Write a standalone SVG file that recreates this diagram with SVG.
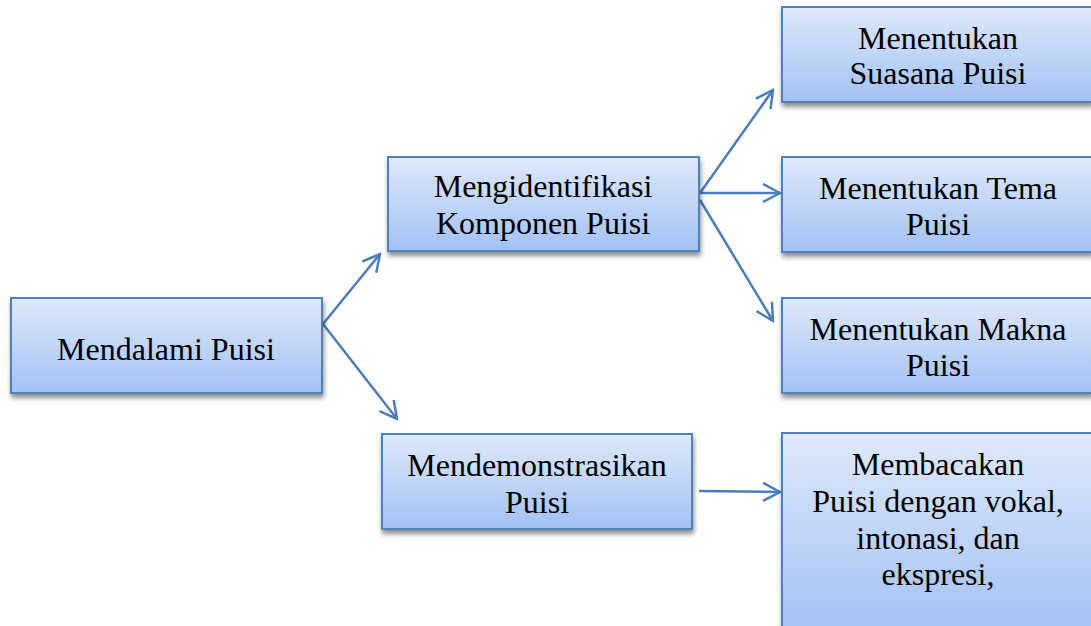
<svg xmlns="http://www.w3.org/2000/svg" width="1091" height="626" viewBox="0 0 1091 626">
<defs>
<linearGradient id="g" x1="0" y1="0" x2="0" y2="1">
<stop offset="0" stop-color="#dfe9fb"/>
<stop offset="1" stop-color="#a2c1f4"/>
</linearGradient>
<filter id="sh" x="-10%" y="-10%" width="120%" height="130%">
<feGaussianBlur in="SourceAlpha" stdDeviation="2.5"/>
<feOffset dx="1" dy="4" result="b"/>
<feComponentTransfer><feFuncA type="linear" slope="0.45"/></feComponentTransfer>
<feMerge><feMergeNode/><feMergeNode in="SourceGraphic"/></feMerge>
</filter>
<marker id="arr" viewBox="0 0 20 20" refX="18" refY="10" markerWidth="20" markerHeight="20" markerUnits="userSpaceOnUse" orient="auto">
<path d="M1,1 L18,10 L1,19" fill="none" stroke="#4a7ebb" stroke-width="2.5"/>
</marker>
</defs>
<style>
.box{fill:url(#g);stroke:#4f81bd;stroke-width:2;filter:url(#sh)}
.t{font-family:"Liberation Serif","Times New Roman",serif;font-size:32px;fill:#000;text-anchor:middle}
.c{fill:none;stroke:#4a7ebb;stroke-width:2.5;marker-end:url(#arr)}
</style>
<g id="connectors">
<line class="c" x1="323" y1="324" x2="380" y2="254"/>
<line class="c" x1="323" y1="324" x2="397" y2="419"/>
<line class="c" x1="700" y1="193" x2="773" y2="90"/>
<line class="c" x1="700" y1="193" x2="780" y2="193"/>
<line class="c" x1="700" y1="200" x2="773" y2="321"/>
<line class="c" x1="699" y1="491" x2="780" y2="492"/>
</g>
<g id="n-mendalami">
<rect class="box" x="11" y="298" width="311" height="95"/>
<text class="t" x="166" y="360">Mendalami Puisi</text>
</g>
<g id="n-mengidentifikasi">
<rect class="box" x="388" y="157" width="311" height="94"/>
<text class="t" x="543" y="197">Mengidentifikasi</text>
<text class="t" x="543" y="234">Komponen Puisi</text>
</g>
<g id="n-mendemonstrasikan">
<rect class="box" x="382" y="434" width="310" height="95"/>
<text class="t" x="537" y="476">Mendemonstrasikan</text>
<text class="t" x="537" y="513">Puisi</text>
</g>
<g id="n-suasana">
<rect class="box" x="782" y="7" width="310" height="95"/>
<text class="t" x="938" y="49">Menentukan</text>
<text class="t" x="938" y="84">Suasana Puisi</text>
</g>
<g id="n-tema">
<rect class="box" x="782" y="157" width="310" height="95"/>
<text class="t" x="938" y="199">Menentukan Tema</text>
<text class="t" x="938" y="235">Puisi</text>
</g>
<g id="n-makna">
<rect class="box" x="782" y="298" width="310" height="95"/>
<text class="t" x="938" y="340">Menentukan Makna</text>
<text class="t" x="938" y="376">Puisi</text>
</g>
<g id="n-membacakan">
<rect class="box" x="782" y="433" width="310" height="200"/>
<text class="t" x="938" y="475">Membacakan</text>
<text class="t" x="938" y="512">Puisi dengan vokal,</text>
<text class="t" x="938" y="549">intonasi, dan</text>
<text class="t" x="938" y="585">ekspresi,</text>
</g>
</svg>
